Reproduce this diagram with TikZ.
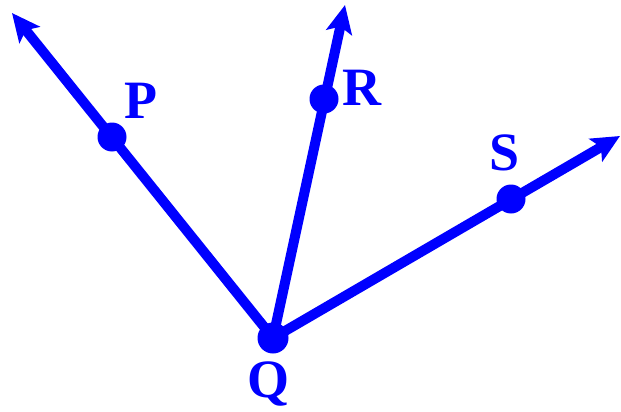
\documentclass[tikz,border=0pt]{standalone}
\usepackage{fontspec}
\setmainfont{Liberation Serif}
\usetikzlibrary{arrows.meta}
\definecolor{ray}{RGB}{0,0,255}
\tikzset{
  rayline/.style={draw=ray, line width=10pt, -{Stealth[length=28pt,width=26pt,inset=6pt]}},
  dot/.style={circle, fill=ray, inner sep=0pt, minimum size=29pt},
  lbl/.style={text=ray, font=\fontsize{54}{54}\selectfont\bfseries, inner sep=0pt, anchor=base}
}
\begin{document}
\begin{tikzpicture}[x=1pt,y=-1pt]
\useasboundingbox (0,0) rectangle (621,412);
\coordinate (Q) at (273,338);
\coordinate (TP) at (12,13);
\coordinate (TR) at (345,5);
\coordinate (TS) at (620,136);
\draw[rayline] (Q) -- (TP);
\draw[rayline] (Q) -- (TR);
\draw[rayline] (Q) -- (TS);
\node[dot] (P) at (112,137) {};
\node[dot] (R) at (324,99) {};
\node[dot] (S) at (511,199) {};
\node[dot, minimum size=31pt] (Qd) at (Q) {};
\node[lbl] (lP) at (141,118) {P};
\node[lbl] (lR) at (362,105) {R};
\node[lbl] (lS) at (505,170) {S};
\node[lbl] (lQ) at (268,397) {Q};
\end{tikzpicture}
\end{document}
